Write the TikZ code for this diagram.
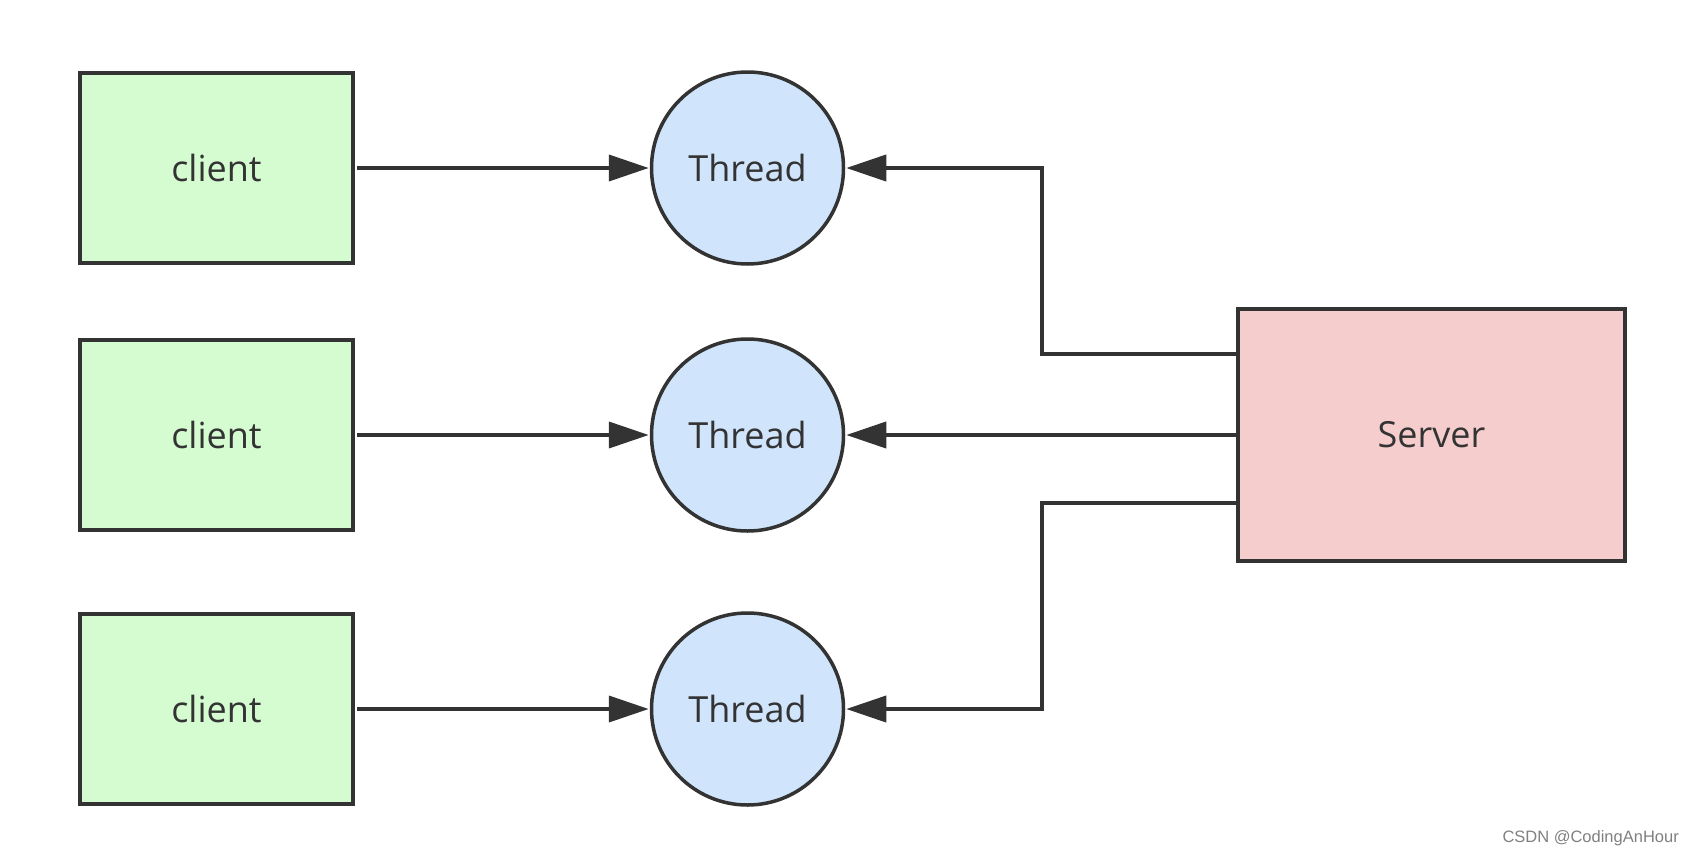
\documentclass[tikz,border=0pt]{standalone}
\usepackage{fontspec}
\setmainfont{Open Sans}
\usetikzlibrary{arrows.meta}
\definecolor{ink}{HTML}{333333}
\definecolor{cgreen}{HTML}{D5FBD0}
\definecolor{cblue}{HTML}{D0E4FB}
\definecolor{cpink}{HTML}{F5CDCD}
\tikzset{
  clientbox/.style={draw=ink, line width=4.5pt, fill=cgreen, minimum width=273pt, minimum height=190pt, inner sep=0pt, text=ink, font=\fontsize{36}{40}\selectfont},
  threadnode/.style={circle, draw=ink, line width=3.5pt, fill=cblue, minimum size=192pt, inner sep=0pt, text=ink, font=\fontsize{36}{40}\selectfont},
  serverbox/.style={draw=ink, line width=4.5pt, fill=cpink, minimum width=387pt, minimum height=252pt, inner sep=0pt, text=ink, font=\fontsize{36}{40}\selectfont},
  arr/.style={draw=ink, line width=4pt, -{Triangle[length=40pt,width=26pt]}, shorten >=1pt},
}
\begin{document}
\begin{tikzpicture}[x=1pt,y=-1pt]
\useasboundingbox (0,0) rectangle (1694,854);
\node[clientbox] (c1) at (216.5,168) {client};
\node[clientbox] (c2) at (216.5,435) {client};
\node[clientbox] (c3) at (216.5,709) {client};
\node[threadnode] (t1) at (747.5,168) {Thread};
\node[threadnode] (t2) at (747.5,435) {Thread};
\node[threadnode] (t3) at (747.5,709) {Thread};
\node[serverbox] (s) at (1431.5,435) {Server};
\draw[arr] ([xshift=2pt]c1.east) -- (t1.west);
\draw[arr] ([xshift=2pt]c2.east) -- (t2.west);
\draw[arr] ([xshift=2pt]c3.east) -- (t3.west);
\draw[arr] (s.west) -- (t2.east);
\draw[arr] ([yshift=81pt]s.west) -- ++(-194,0) |- (t1.east);
\draw[arr] ([yshift=-68pt]s.west) -- ++(-194,0) |- (t3.east);
\node[anchor=south east, inner sep=0pt, text=black!50, font=\fontspec{Liberation Sans}\fontsize{16.5}{18}\selectfont] (wm) at (1679,846) {CSDN @CodingAnHour};
\end{tikzpicture}
\end{document}
